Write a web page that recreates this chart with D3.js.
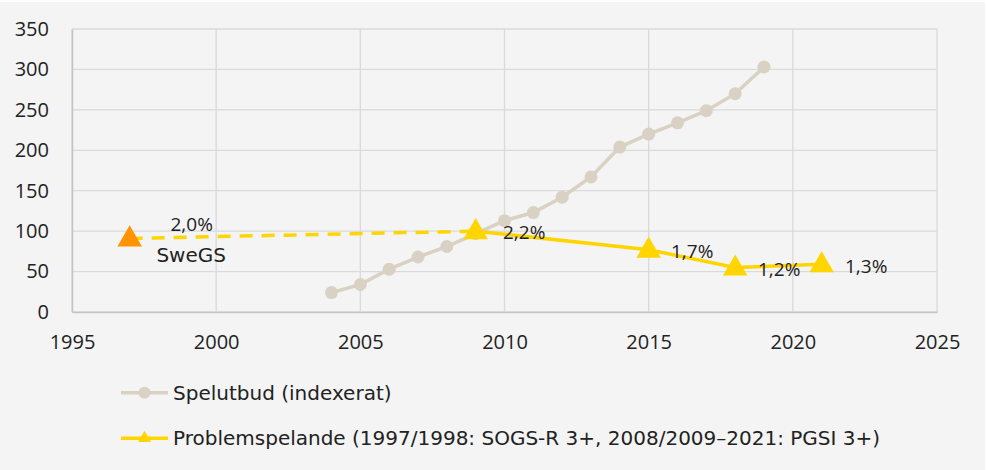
<!DOCTYPE html>
<html>
<head>
<meta charset="utf-8">
<script src="https://cdn.jsdelivr.net/npm/d3@7"></script>
<style>
  body { margin: 0; background: #ffffff; }
  svg { display: block; }
  .tick text { font-family: "Open Sans", sans-serif; }
</style>
</head>
<body>
<div id="chart"></div>
<script>
// Spelutbud (indexerat)
const offerYears = [2004, 2005, 2006, 2007, 2008, 2009, 2010, 2011, 2012, 2013, 2014, 2015, 2016, 2017, 2018, 2019];
const offerValues = [24, 34, 53, 68, 81, 97, 113, 123, 142, 167, 204, 220, 234, 249, 270, 303];

// Problemspelande (index, 2009 = 100) with printed prevalence labels
const probYears = [1997, 2009, 2015, 2018, 2021];
const probValues = [91, 100, 77, 55, 59];
const probLabels = ["2,0%", "2,2%", "1,7%", "1,2%", "1,3%"];

const xTicks = [1995, 2000, 2005, 2010, 2015, 2020, 2025];
const yTicks = [0, 50, 100, 150, 200, 250, 300, 350];

const legendNames = ["Spelutbud (indexerat)", "Problemspelande (1997/1998: SOGS-R 3+, 2008/2009–2021: PGSI 3+)"];

const width = 987;
const height = 470;
const margin = { left: 72, right: 50, top: 29, bottom: 158 };

const numFont = "'Open Sans', sans-serif";
const textFont = "'DejaVu Sans', sans-serif";
const ink = "#222222";
const gold = "#ffd500";
const orange = "#ff9300";
const beige = "#d9d1c4";

const svg = d3.select("#chart")
    .append("svg")
    .attr("width", width)
    .attr("height", height);

// background panel (thin white strip at top)
svg.append("rect")
    .attr("x", 0).attr("y", 2)
    .attr("width", width - 2).attr("height", height - 2)
    .attr("fill", "#f4f4f4");

const x = d3.scaleLinear()
    .domain([1995, 2025])
    .range([margin.left, width - margin.right]);

const y = d3.scaleLinear()
    .domain([0, 350])
    .range([height - margin.bottom, margin.top]);

// grid lines
svg.append("g")
    .selectAll("line")
    .data(yTicks)
    .enter()
    .append("line")
    .attr("x1", x(1995)).attr("x2", x(2025))
    .attr("y1", (d) => y(d)).attr("y2", (d) => y(d))
    .attr("stroke", "#dadada")
    .attr("stroke-width", 1.3);

svg.append("g")
    .selectAll("line")
    .data(xTicks)
    .enter()
    .append("line")
    .attr("x1", (d) => x(d)).attr("x2", (d) => x(d))
    .attr("y1", y(0)).attr("y2", y(350))
    .attr("stroke", "#dadada")
    .attr("stroke-width", 1.3);

// x axis
svg.append("g")
    .attr("transform", `translate(0,${y(0)})`)
    .call(d3.axisBottom(x).tickValues(xTicks).tickFormat(d3.format("d")).tickSize(0).tickPadding(23))
    .call((g) => g.select(".domain").attr("stroke", "#c4c4c4").attr("stroke-width", 1.5))
    .call((g) => g.selectAll("text").attr("font-size", "20px").attr("fill", ink));

// y axis
svg.append("g")
    .attr("transform", `translate(${x(1995)},0)`)
    .call(d3.axisLeft(y).tickValues(yTicks).tickSize(0).tickPadding(23))
    .call((g) => g.select(".domain").attr("stroke", "#c4c4c4").attr("stroke-width", 1.5))
    .call((g) => g.selectAll("text").attr("font-size", "20px").attr("fill", ink));

// Spelutbud line + dots
const offer = offerYears.map((yr, i) => ({ year: yr, value: offerValues[i] }));
const line = d3.line().x((d) => x(d.year)).y((d) => y(d.value));

svg.append("path")
    .datum(offer)
    .attr("d", line)
    .attr("fill", "none")
    .attr("stroke", beige)
    .attr("stroke-width", 3.5);

svg.selectAll("circle.offer")
    .data(offer)
    .enter()
    .append("circle")
    .attr("class", "offer")
    .attr("cx", (d) => x(d.year))
    .attr("cy", (d) => y(d.value))
    .attr("r", 6.5)
    .attr("fill", beige);

// Problemspelande: dashed between the two methods, solid after
const prob = probYears.map((yr, i) => ({ year: yr, value: probValues[i], label: probLabels[i] }));

svg.append("path")
    .datum(prob.slice(0, 2))
    .attr("d", line)
    .attr("fill", "none")
    .attr("stroke", gold)
    .attr("stroke-width", 3.5)
    .attr("stroke-dasharray", "13,9");

svg.append("path")
    .datum(prob.slice(1))
    .attr("d", line)
    .attr("fill", "none")
    .attr("stroke", gold)
    .attr("stroke-width", 3.5);

const tri = d3.symbol().type(d3.symbolTriangle).size(260);

svg.selectAll("path.prob")
    .data(prob)
    .enter()
    .append("path")
    .attr("class", "prob")
    .attr("d", tri)
    .attr("transform", (d) => `translate(${x(d.year)},${y(d.value) + 1})`)
    .attr("fill", (d, i) => i === 0 ? orange : gold);

// data labels
const labelOffsets = [[62, -14.5], [48.5, 1], [43.5, 1], [44, 1.5], [44.5, 1.5]];
svg.selectAll("text.plabel")
    .data(prob)
    .enter()
    .append("text")
    .attr("class", "plabel")
    .attr("x", (d, i) => x(d.year) + labelOffsets[i][0])
    .attr("y", (d, i) => y(d.value) + labelOffsets[i][1])
    .attr("text-anchor", "middle")
    .attr("dominant-baseline", "central")
    .attr("font-family", numFont)
    .attr("font-size", "19px")
    .attr("fill", ink)
    .text((d) => d.label);

svg.append("text")
    .attr("x", x(1997) + 61.5)
    .attr("y", y(probValues[0]) + 17)
    .attr("text-anchor", "middle")
    .attr("dominant-baseline", "central")
    .attr("font-family", textFont)
    .attr("font-size", "20px")
    .attr("fill", ink)
    .text("SweGS");

// legend
const legend = svg.append("g").attr("transform", "translate(121,392.7)");

const item1 = legend.append("g");
item1.append("line").attr("x1", 0).attr("x2", 47).attr("stroke", beige).attr("stroke-width", 3.5);
item1.append("circle").attr("cx", 23.5).attr("r", 6).attr("fill", beige);
item1.append("text").attr("x", 52).attr("dominant-baseline", "central")
    .attr("font-family", textFont).attr("font-size", "20px").attr("fill", ink)
    .text(legendNames[0]);

const item2 = legend.append("g").attr("transform", "translate(0,45.6)");
item2.append("line").attr("x1", 0).attr("x2", 47).attr("stroke", gold).attr("stroke-width", 3.5);
item2.append("path").attr("d", d3.symbol().type(d3.symbolTriangle).size(75)).attr("transform", "translate(23.5,0)").attr("fill", gold);
item2.append("text").attr("x", 52).attr("dominant-baseline", "central")
    .attr("font-family", textFont).attr("font-size", "20px").attr("fill", ink)
    .text(legendNames[1]);
</script>
</body>
</html>
